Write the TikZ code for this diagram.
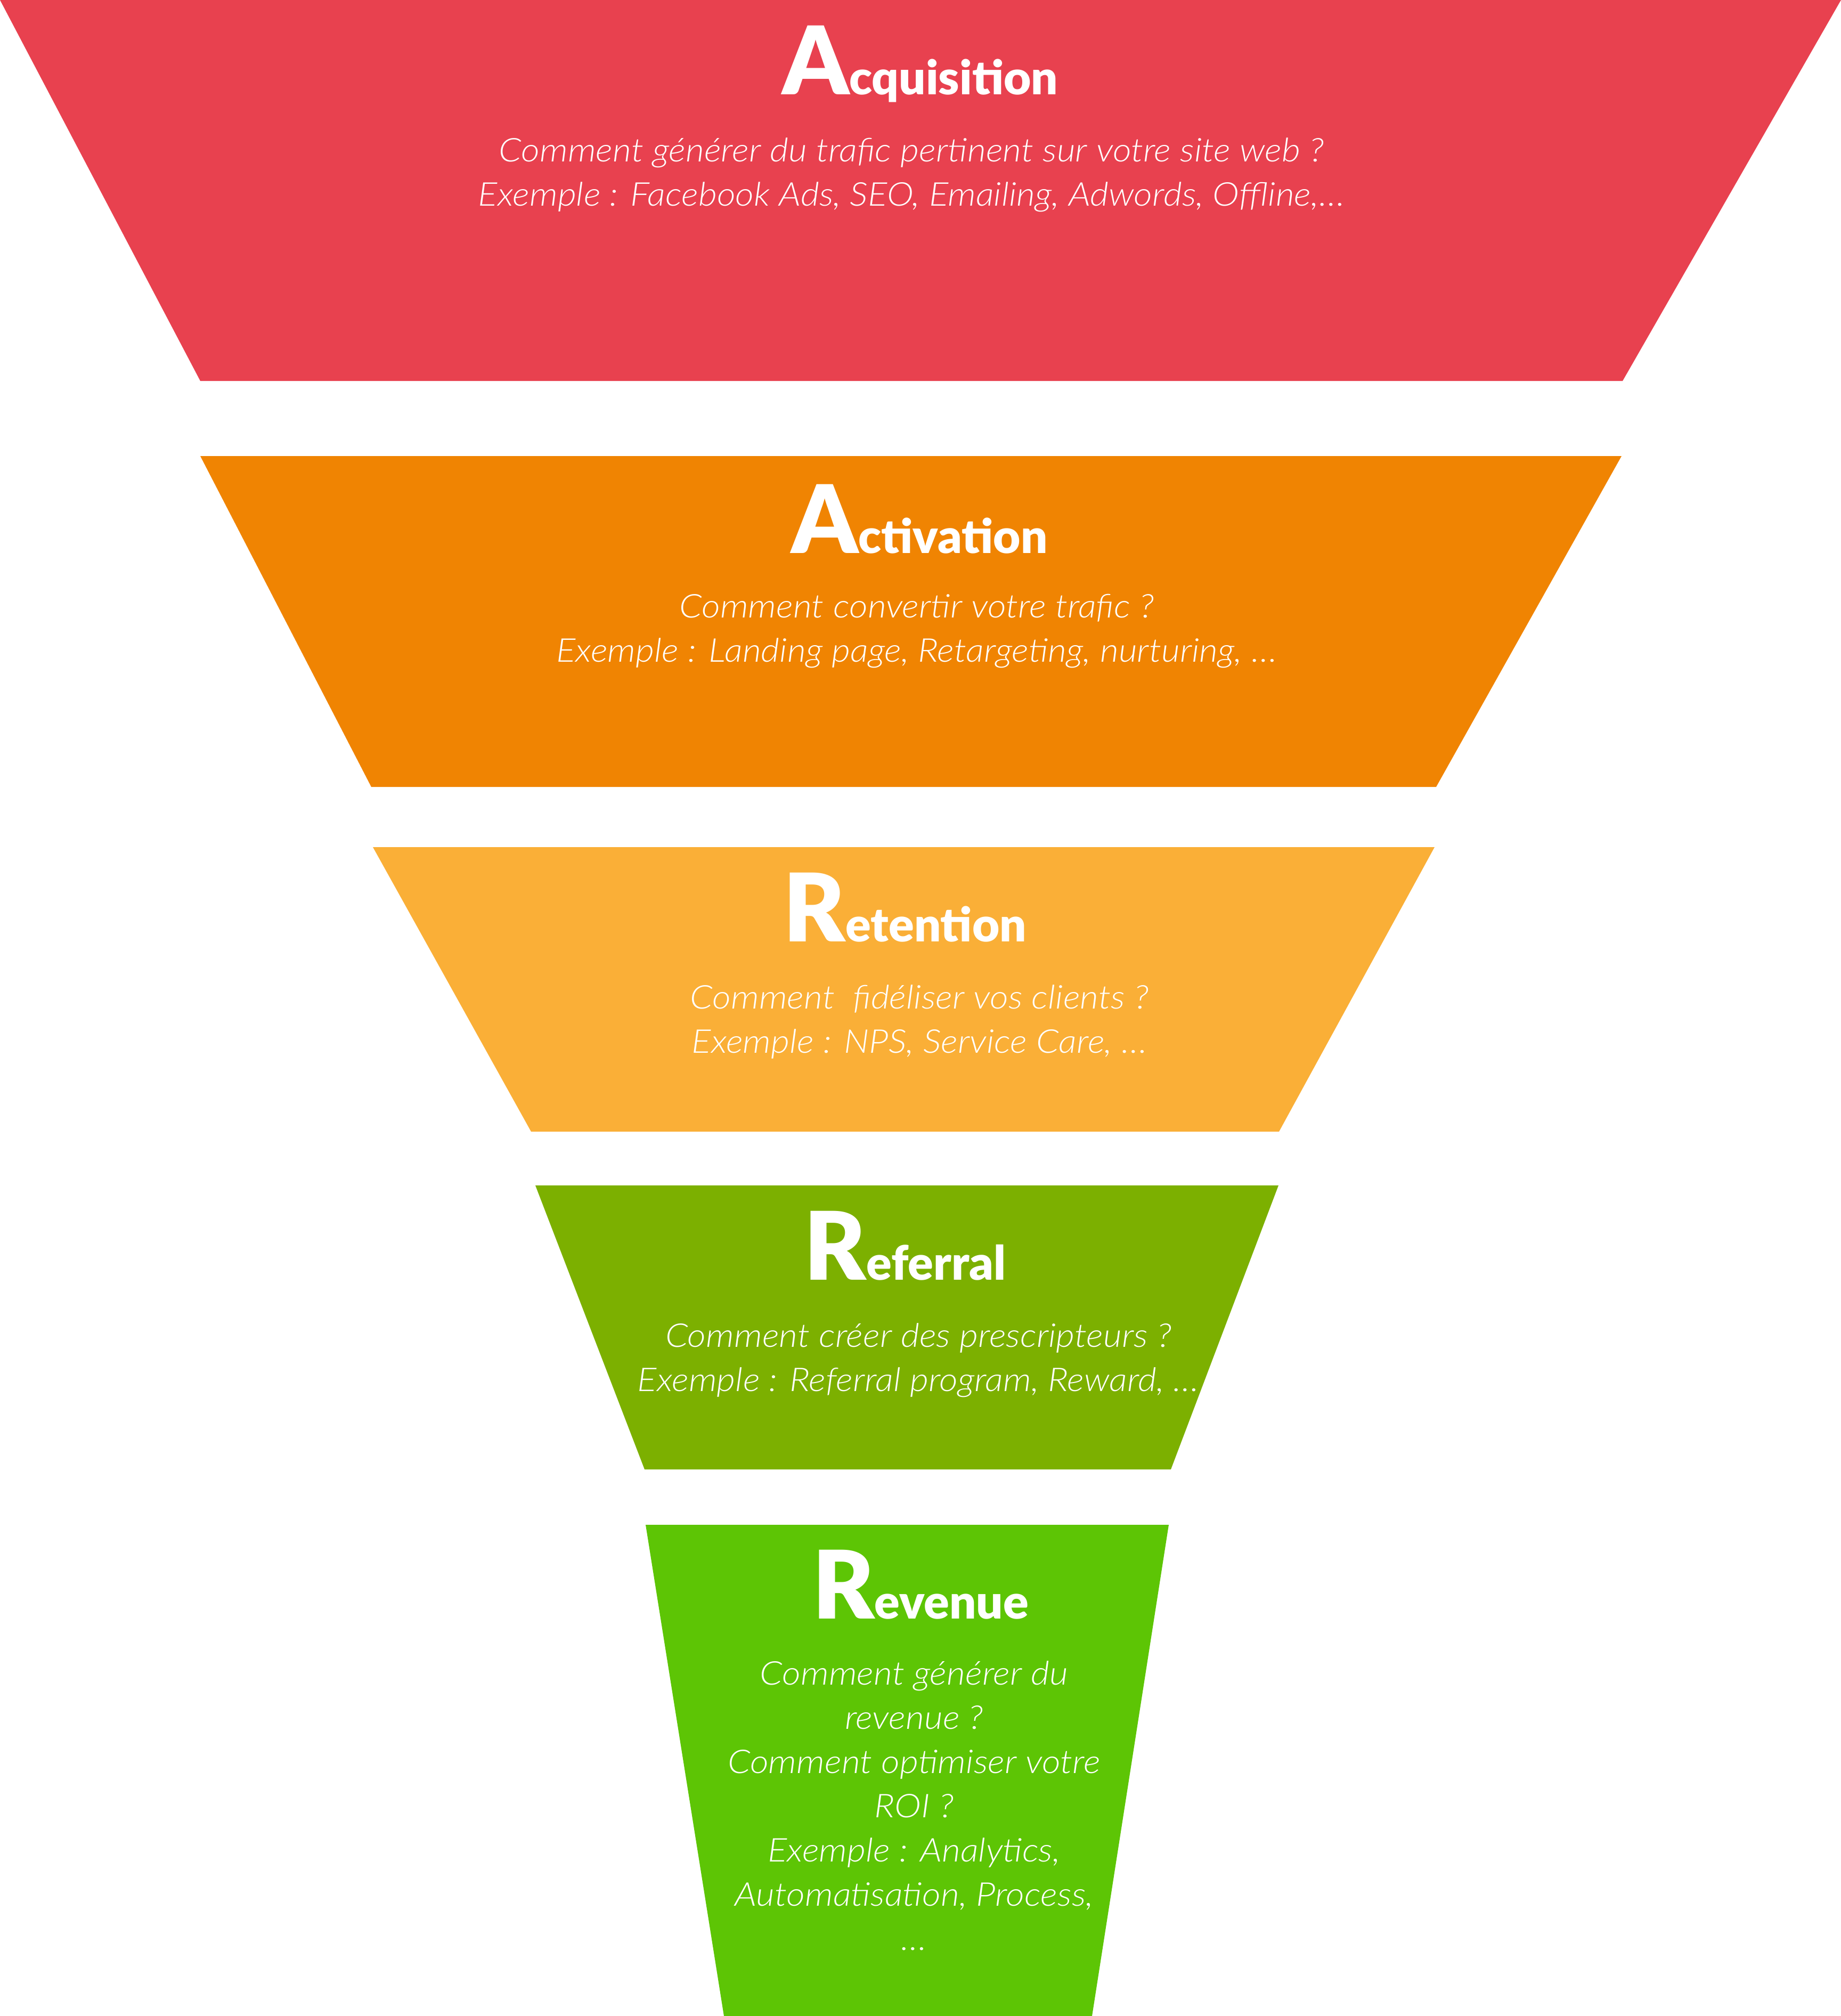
\documentclass[tikz,border=0pt]{standalone}
\usepackage{fontspec}
\setmainfont{Lato}
\newfontfamily\fontcorps{Lato Light Italic}[FakeStretch=1.1]
\newfontfamily\fonttitre{Lato Black}
\usepackage{tikz}
\usetikzlibrary{positioning}
\definecolor{rougeacq}{HTML}{E8414F}
\definecolor{orangeact}{HTML}{F08402}
\definecolor{jauneret}{HTML}{FAAF37}
\definecolor{vertref}{HTML}{7CB000}
\definecolor{vertrev}{HTML}{5DC505}
\newcommand{\grande}[1]{{\fontsize{50.5}{51}\selectfont #1}}
\tikzset{
  titre/.style={text=white, anchor=base, inner sep=0pt,
                font=\fonttitre\fontsize{25.2}{30}\selectfont},
  % ancre base = ligne de base de la derniere ligne
  corps/.style={text=white, anchor=base, inner sep=0pt, align=center,
                font=\fontcorps\fontsize{17.5}{23.6}\selectfont},
}

\begin{document}
\begin{tikzpicture}
  \useasboundingbox (0,0) rectangle (34.56,-37.84);
  % entonnoir
  \fill[rougeacq]  (0,0) -- (34.56,0) -- (30.46,-7.15) -- (3.76,-7.15) -- cycle;
  \fill[orangeact] (3.76,-8.56) -- (30.44,-8.56) -- (26.96,-14.77) -- (6.97,-14.77) -- cycle;
  \fill[jauneret]  (7.00,-15.90) -- (26.93,-15.90) -- (24.01,-21.24) -- (9.97,-21.24) -- cycle;
  \fill[vertref]   (10.05,-22.25) -- (24.00,-22.25) -- (21.98,-27.58) -- (12.10,-27.58) -- cycle;
  \fill[vertrev]   (12.12,-28.62) -- (21.94,-28.62) -- (20.50,-37.84) -- (13.59,-37.84) -- cycle;

  \node[titre] (acq) at (17.27,-1.77) {\grande{A}cquisition};
  \node[corps] (acqtxt) at (17.11,-3.86) {Comment générer du trafic pertinent sur votre site web ?\\Exemple : Facebook Ads, SEO, Emailing, Adwords, Offline,…};

  \node[titre] (act) at (17.26,-10.38) {\grande{A}ctivation};
  \node[corps] (acttxt) at (17.21,-12.42) {Comment convertir votre trafic ?\\Exemple : Landing page, Retargeting, nurturing, …};

  \node[titre] (ret) at (16.99,-17.67) {\grande{R}etention};
  \node[corps] (rettxt) at (17.26,-19.76) {Comment\ \ fidéliser vos clients ?\\Exemple : NPS, Service Care, …};

  \node[titre] (ref) at (16.99,-24.02) {\grande{R}eferral};
  \node[corps] (reftxt) at (17.24,-26.11) {Comment créer des prescripteurs ?\\Exemple : Referral program, Reward, …};

  \node[titre] (rev) at (17.28,-30.38) {\grande{R}evenue};
  \node[corps] (revtxt) at (17.16,-36.60) {Comment générer du\\revenue ?\\Comment optimiser votre\\ROI ?\\Exemple : Analytics,\\Automatisation, Process,\\…};
\end{tikzpicture}
\end{document}
